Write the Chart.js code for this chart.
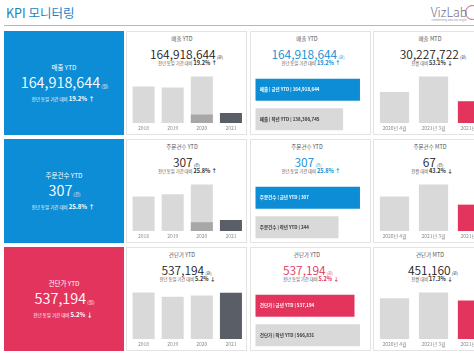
<!DOCTYPE html>
<html><head><meta charset="utf-8">
<script src="https://cdn.jsdelivr.net/npm/chart.js@4.4.1/dist/chart.umd.min.js"></script>
<style>
html,body{margin:0;padding:0}
body{width:474px;height:355px;overflow:hidden;background:#fff;position:relative;font-family:"Noto Sans CJK KR","Noto Sans",sans-serif}
.box{position:absolute;box-sizing:border-box}
.card{background:#fff;border:1px solid #e3e3e3}
.tx{position:absolute;white-space:nowrap;line-height:1;transform:translate(-50%,-50%)}
canvas{position:absolute}
</style></head><body>
<script>
// ---------- data ----------
const kpiNames = ['매출','주문건수','건단가'];
const kpiUnits = ['원','건','원'];
const ytdCurrent = [164918644, 307, 537194];
const ytdPrev = [138306745, 244, 566831];
const ytdChangePct = ['19.2%','25.8%','5.2%'];
const ytdArrow = ['↑','↑','↓'];
const yearLabels = ['2018','2019','2020','2021'];
const salesYearTotal = [600000000, 585000000, 765000000, null];
const ordersYearTotal = [962, 1026, 1299, null];
const unitPriceYearTotal = [540600, 492400, 507000, null];
const salesYtdByYear = [null, null, 138306745, 164918644];
const ordersYtdByYear = [null, null, 244, 307];
const unitPriceYtdByYear = [null, null, null, 537194];
const monthLabels = ['2020년 4월','2021년 3월','2021년 4월'];
const salesMtd = [43000000, 64450000, 30227722];
const ordersMtd = [88, 118, 67];
const unitPriceMtd = [478000, 545500, 451160];
const mtdChangePct = ['53.1%','43.2%','17.3%'];
const mtdArrow = ['↓','↓','↓'];

const yearTotals = [salesYearTotal, ordersYearTotal, unitPriceYearTotal];
const ytdByYear = [salesYtdByYear, ordersYtdByYear, unitPriceYtdByYear];
const mtdSeries = [salesMtd, ordersMtd, unitPriceMtd];

// ---------- style ----------
const FONT = '"Noto Sans CJK KR","Noto Sans",sans-serif';
Chart.defaults.font.family = FONT;
const BLUE = '#0c8dd5', RED = '#e3345d', LIGHT = '#d9d9d9', MID = '#a7a7a7', DARK = '#5a5e67';
const accent = [BLUE, BLUE, RED];
const rowTop = [31, 139, 247];
const rowH = 104;
const fmt = v => v.toLocaleString('en-US');

const root = document.body;
function box(x,y,w,h,cls,bg){const d=document.createElement('div');d.className='box '+(cls||'');Object.assign(d.style,{left:x+'px',top:y+'px',width:w+'px',height:h+'px'});if(bg)d.style.background=bg;root.appendChild(d);return d;}
function text(html,cx,cy,size,color,weight){const d=document.createElement('div');d.className='tx';d.innerHTML=html;Object.assign(d.style,{left:cx+'px',top:cy+'px',fontSize:size+'px',color:color,fontWeight:weight||400});root.appendChild(d);return d;}
function canvas(x,y,w,h){const c=document.createElement('canvas');c.width=w;c.height=h;Object.assign(c.style,{left:x+'px',top:y+'px',width:w+'px',height:h+'px'});root.appendChild(c);return c;}
function numHtml(v,unit,us){return fmt(v)+'<span style="font-size:'+us+'px;margin-left:1px;font-weight:400">('+unit+')</span>';}
function subHtml(lead,pct,arrow,ls,bs,col){return '<span style="font-size:'+ls+'px">'+lead+'</span><b style="font-size:'+bs+'px;color:'+col+'">'+pct+' '+arrow+'</b>';}

// header
const h=text('KPI 모니터링',6,12.5,12.5,'#1b7fc4',400); h.style.transform='translate(0,-50%)';
box(4,25,470,1,'','#8fc2e6');
text('VizLab',449,11.5,12.5,'#6e7090',300);
text('Transforming Data into Insight',449,20,2.5,'#999',400);
const circ=box(465,5,15,15,''); circ.style.border='1.5px solid #c8607e'; circ.style.borderRadius='50%';

const xTickCfg = {grid:{display:false,drawTicks:false},border:{display:false},ticks:{font:{size:5,family:FONT},color:'#8a8a8a',padding:2,maxRotation:0,autoSkip:false}};
const baseOpts = {responsive:false,animation:false,events:[],plugins:{legend:{display:false},tooltip:{enabled:false}}};

const barLabelPlugin = {
  id:'barLabels',
  afterDatasetsDraw(chart,args,opts){
    const ctx=chart.ctx, meta=chart.getDatasetMeta(0);
    ctx.save(); ctx.font='bold 4.5px '+FONT; ctx.textBaseline='middle';
    meta.data.forEach((el,i)=>{ctx.fillStyle=opts.colors[i];ctx.fillText(opts.texts[i],chart.chartArea.left+4.5,el.y);});
    ctx.restore();
  }
};

for(let r=0;r<3;r++){
  const t=rowTop[r], name=kpiNames[r], unit=kpiUnits[r], ac=accent[r];
  // col1 tile
  box(4,t,120,rowH,'',ac);
  text(name+' YTD',64,t+35.5,6.5,'#fff');
  text(numHtml(ytdCurrent[r],unit,4.5),64.5,t+51,14.5,'#fff',350);
  text(subHtml('전년 동일 기간 대비 ',ytdChangePct[r],ytdArrow[r],4.5,6,'#fff'),63,t+68,5,'#fff');

  // col2 card: yearly bars
  box(126,t,121,rowH,'card');
  text(name+' YTD',182,t+9,5.5,'#555');
  text(numHtml(ytdCurrent[r],unit,4),186.5,t+22.5,12,'#222',350);
  text(subHtml('전년 동일 기간 대비 ',ytdChangePct[r],ytdArrow[r],4.3,5.5,'#333'),187.5,t+32,5,'#555');
  const c2=canvas(127,t+40,119,62);
  const maxY=Math.max(...yearTotals[r].filter(v=>v!=null),...ytdByYear[r].filter(v=>v!=null));
  new Chart(c2,{type:'bar',data:{labels:yearLabels,datasets:[
      {data:ytdByYear[r],backgroundColor:[MID,MID,MID,DARK],grouped:false,categoryPercentage:0.756,barPercentage:1},
      {data:yearTotals[r],backgroundColor:LIGHT,grouped:false,categoryPercentage:0.756,barPercentage:1}
    ]},
    options:{...baseOpts,layout:{padding:{left:2,right:0.5,top:0,bottom:0}},
      scales:{x:xTickCfg,y:{display:false,min:0,max:maxY*1.12}}}});

  // col3 card: horizontal current vs previous
  box(249.5,t,121,rowH,'card');
  text(name+' YTD',307,t+9,5.5,'#555');
  text(numHtml(ytdCurrent[r],unit,4),308,t+22.5,12,ac,350);
  text(subHtml('전년 동일 기간 대비 ',ytdChangePct[r],ytdArrow[r],4.3,5.5,ac),311,t+32,5,'#555');
  const c3=canvas(250,t+44,120,59);
  const hv=[ytdCurrent[r],ytdPrev[r]];
  new Chart(c3,{type:'bar',plugins:[barLabelPlugin],data:{labels:['금년 YTD','작년 YTD'],datasets:[
      {data:hv,backgroundColor:[ac,LIGHT],categoryPercentage:0.746,barPercentage:1}]},
    options:{...baseOpts,indexAxis:'y',layout:{padding:{left:5.3,right:5,top:0,bottom:0}},
      plugins:{...baseOpts.plugins,barLabels:{colors:['#fff','#333'],texts:[name+' | 금년 YTD | '+fmt(ytdCurrent[r]),name+' | 작년 YTD | '+fmt(ytdPrev[r])]}},
      scales:{x:{display:false,min:0,max:Math.max(...hv)*1.048},y:{display:false}}}});

  // col4 card: monthly
  box(372.5,t,122,rowH,'card');
  text(name+' MTD',430,t+9,5.5,'#555');
  text(numHtml(mtdSeries[r][2],unit,4),433,t+22.5,12,'#222',350);
  text(subHtml('전월 대비 ',mtdChangePct[r],mtdArrow[r],4.3,5.5,'#333'),432,t+32,5,'#555');
  const c4=canvas(373,t+40,121,62);
  new Chart(c4,{type:'bar',data:{labels:monthLabels,datasets:[
      {data:mtdSeries[r],backgroundColor:[LIGHT,LIGHT,RED],categoryPercentage:0.75,barPercentage:1}]},
    options:{...baseOpts,layout:{padding:{left:2,right:2,top:0,bottom:0}},
      scales:{x:xTickCfg,y:{display:false,min:0,max:Math.max(...mtdSeries[r])*1.12}}}});
}
</script>
</body></html>
